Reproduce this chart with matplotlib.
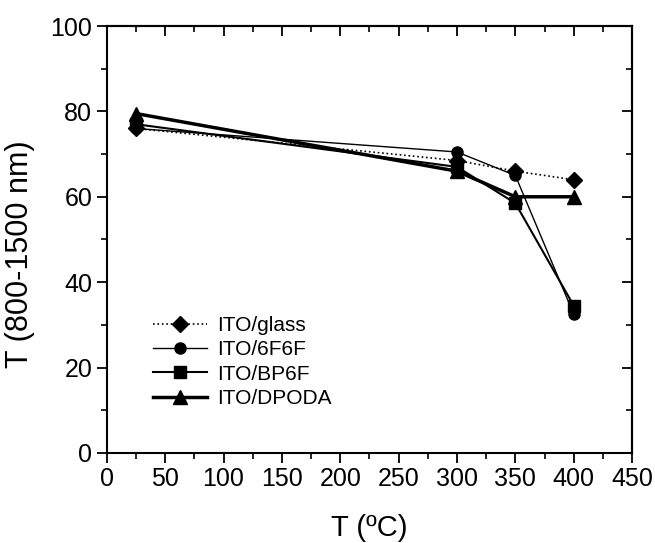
import matplotlib
matplotlib.use("Agg")
import matplotlib.pyplot as plt
from matplotlib.ticker import MultipleLocator

plt.rcParams["font.family"] = ["Liberation Sans", "DejaVu Sans"]

# -----------------------------------------
# data
# -----------------------------------------
temps = [25, 300, 350, 400]
glass = [76.0, 68.5, 66.0, 64.0]
f6f6f = [76.0, 70.5, 65.0, 32.5]
bp6f = [77.0, 67.0, 58.5, 34.5]
dpoda = [79.5, 66.0, 60.0, 60.0]
labels = ["ITO/glass", "ITO/6F6F", "ITO/BP6F", "ITO/DPODA"]

# -----------------------------------------
# plot
# -----------------------------------------
fig = plt.figure(figsize=(6.55, 5.43), dpi=100)
ax = fig.add_axes([0.163, 0.166, 0.802, 0.786])

ax.plot(temps, glass, ls=":", lw=1.2, color="black", marker="D", ms=8, label=labels[0])
ax.plot(temps, f6f6f, ls="-", lw=1.0, color="black", marker="o", ms=8, label=labels[1])
ax.plot(temps, bp6f, ls="-", lw=1.5, color="black", marker="s", ms=8, label=labels[2])
ax.plot(temps, dpoda, ls="-", lw=2.5, color="black", marker="^", ms=10, label=labels[3])

ax.set_xlim(0, 450)
ax.set_ylim(0, 100)
ax.xaxis.set_major_locator(MultipleLocator(50))
ax.xaxis.set_minor_locator(MultipleLocator(25))
ax.yaxis.set_major_locator(MultipleLocator(20))
ax.yaxis.set_minor_locator(MultipleLocator(10))

for s in ax.spines.values():
    s.set_linewidth(1.5)

ax.tick_params(axis="both", which="major", direction="out", length=7, width=1.3,
               labelsize=18, top=False, right=False)
ax.tick_params(axis="both", which="minor", direction="out", length=4, width=1.2,
               top=False, right=False)

# inward ticks on top and right
axt = ax.secondary_xaxis("top")
axt.xaxis.set_major_locator(MultipleLocator(50))
axt.xaxis.set_minor_locator(MultipleLocator(25))
axt.tick_params(which="major", direction="in", length=7, width=1.3, labeltop=False)
axt.tick_params(which="minor", direction="in", length=4, width=1.2)
axr = ax.secondary_yaxis("right")
axr.yaxis.set_major_locator(MultipleLocator(20))
axr.yaxis.set_minor_locator(MultipleLocator(10))
axr.tick_params(which="major", direction="in", length=7, width=1.3, labelright=False)
axr.tick_params(which="minor", direction="in", length=4, width=1.2)
for s in list(axt.spines.values()) + list(axr.spines.values()):
    s.set_linewidth(1.5)

ax.set_xlabel("T (ºC)", fontsize=21, labelpad=16)
ax.set_ylabel("T (800-1500 nm)", fontsize=22)
ax.yaxis.set_label_coords(-0.137, 0.466)

ax.legend(loc="lower left", bbox_to_anchor=(0.072, 0.086), frameon=False, fontsize=15,
          handlelength=2.6, handletextpad=0.5, labelspacing=0.25, borderaxespad=0)

fig.savefig("out.png", dpi=100)
